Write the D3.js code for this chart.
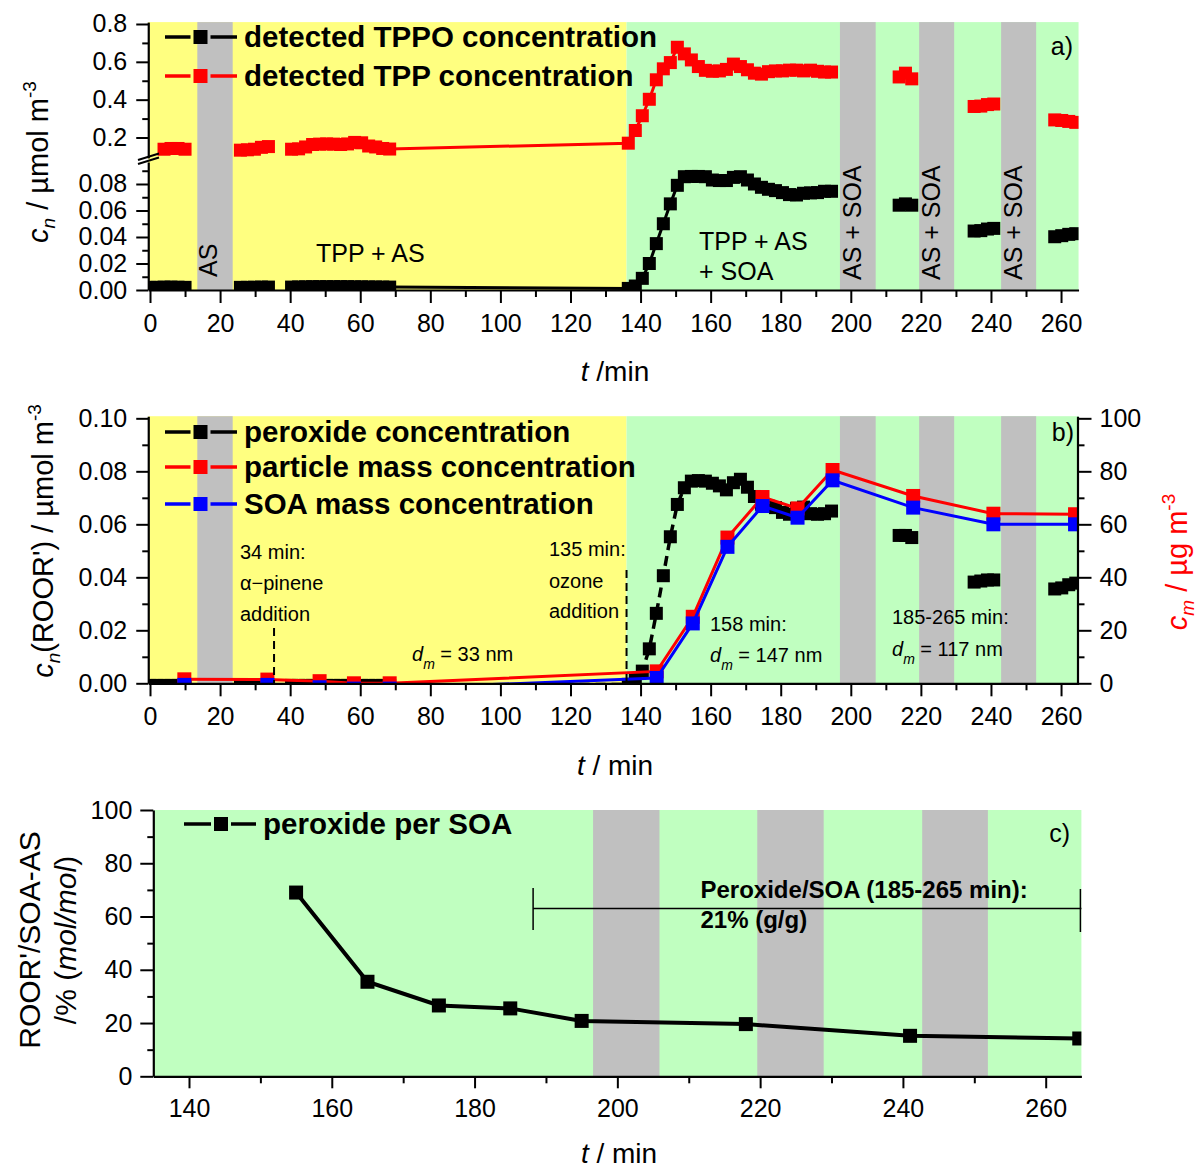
<!DOCTYPE html>
<html><head><meta charset="utf-8">
<script src="https://d3js.org/d3.v7.min.js"></script>
<style>
html,body{margin:0;padding:0;background:#fff;}
svg{display:block;font-family:"Liberation Sans",Arial,Helvetica,sans-serif;}
</style></head><body>
<svg id="chart" width="1200" height="1171"></svg>
<script>
// ================= DATA =================
// measurement segments (time, min) shared by panels a and b
const segTimes = [
  [0, 2, 4, 6, 8, 10],
  [25.8, 27.8, 29.8, 31.8, 33.8],
  [40.4, 42.4, 44.4, 46.4, 48.4, 50.4, 52.4, 54.4, 56.4, 58.4, 60.4, 62.4, 64.4, 66.4, 68.4,
   136.5, 138.5, 140.5, 142.5, 144.5, 146.5, 148.5, 150.5, 152.5, 154.5, 156.5, 158.5, 160.5, 162.5, 164.5,
   166.5, 168.5, 170.5, 172.5, 174.5, 176.5, 178.5, 180.5, 182.5, 184.5, 186.5, 188.5, 190.5, 192.5, 194.5],
  [213.8, 215.6, 217.4],
  [235.2, 237.1, 239.0, 240.8],
  [258.2, 260.2, 262.2, 264.2]
];
// panel a: detected TPPO (µmol m-3)
const tppoSegs = [
  [0.002, 0.002, 0.0022, 0.0022, 0.0021, 0.002],
  [0.002, 0.002, 0.0021, 0.0022, 0.0022],
  [0.0022, 0.0023, 0.0024, 0.0025, 0.0025, 0.0025, 0.0025, 0.0025, 0.0025, 0.0024, 0.0024, 0.0023, 0.0023, 0.0022, 0.0022,
   0.0012, 0.003, 0.0088, 0.020, 0.035, 0.050, 0.065, 0.079, 0.0855, 0.0857, 0.0857, 0.0855, 0.083, 0.0826, 0.0826,
   0.085, 0.0855, 0.083, 0.080, 0.0775, 0.076, 0.075, 0.0735, 0.072, 0.0717, 0.073, 0.0733, 0.0735, 0.0745, 0.0745],
  [0.064, 0.065, 0.064],
  [0.0445, 0.0448, 0.046, 0.0465],
  [0.0402, 0.041, 0.042, 0.0425]
];
// panel a: detected TPP (µmol m-3)
const tppSegs = [
  [null, null, 0.138, 0.142, 0.142, 0.138],
  [0.133, 0.135, 0.138, 0.148, 0.152],
  [0.138, 0.140, 0.150, 0.163, 0.165, 0.166, 0.165, 0.163, 0.166, 0.174, 0.172, 0.155, 0.150, 0.142, 0.139,
   0.170, 0.237, 0.315, 0.402, 0.505, 0.563, 0.596, 0.677, 0.642, 0.610, 0.575, 0.555, 0.550, 0.552, 0.560,
   0.588, 0.575, 0.558, 0.540, 0.535, 0.548, 0.552, 0.552, 0.556, 0.556, 0.552, 0.556, 0.550, 0.546, 0.546],
  [0.52, 0.54, 0.51],
  [0.364, 0.366, 0.374, 0.377],
  [0.293, 0.290, 0.285, 0.280]
];
// panel b: peroxide concentration (µmol m-3)
const peroxSegs = [
  [-0.0008, -0.0008, -0.0008, -0.0008, -0.0008, -0.0008],
  [-0.0008, -0.0008, -0.0008, -0.0008, -0.0008],
  [-0.0008, -0.0008, -0.0008, -0.0008, -0.0008, -0.0008, -0.0008, -0.0008, -0.0008, -0.0008, -0.0008, -0.0008, -0.0008, -0.0008, -0.0008,
   -0.0004, 0.0015, 0.0046, 0.013, 0.0264, 0.0406, 0.0553, 0.0675, 0.0738, 0.0763, 0.0765, 0.0763, 0.0755, 0.0745, 0.073,
   0.0757, 0.077, 0.074, 0.0705, 0.0676, 0.0668, 0.0663, 0.0645, 0.0638, 0.066, 0.0665, 0.064, 0.0638, 0.064, 0.065],
  [0.0558, 0.0558, 0.055],
  [0.0382, 0.0386, 0.039, 0.039],
  [0.0356, 0.036, 0.0372, 0.0378]
];
// panel b: mass concentrations (µg m-3)
const tMass = [9.8, 33.5, 48.4, 58.2, 68.4, 144.6, 154.9, 164.8, 174.8, 184.8, 194.8, 217.8, 240.7, 264.0];
const particleMass = [1.5, 1.4, 0.8, 0.0, 0.0, 4.5, 25.1, 55.0, 70.3, 66.0, 80.5, 70.7, 64.0, 63.8];
const soaMass = [-0.6, -0.6, -1.5, -2.0, -2.0, 2.0, 22.6, 51.5, 66.9, 62.5, 76.6, 66.3, 60.0, 60.0];
// panel c: peroxide per SOA (%)
const tRatio = [155, 165, 175, 185, 195, 218, 241, 264.7];
const ratioPct = [69.0, 35.5, 26.6, 25.5, 20.8, 19.6, 15.2, 14.2];

// background phases (min)
const yellowSpan = [-0.5, 136];
const greenSpan = [136, 265];
const greySpansAB = [[13.5, 23.6], [196.9, 207.1], [219.5, 229.5], [242.9, 252.9]];
const greySpansC = [[196.6, 205.9], [219.6, 228.9], [242.7, 251.9]];

// ticks
const xTicksAB = [0, 20, 40, 60, 80, 100, 120, 140, 160, 180, 200, 220, 240, 260];
const xMinorAB = [10, 30, 50, 70, 90, 110, 130, 150, 170, 190, 210, 230, 250];
const yTopTicks = [0.2, 0.4, 0.6, 0.8];
const yTopMinor = [0.3, 0.5, 0.7];
const yBotTicks = [0, 0.02, 0.04, 0.06, 0.08];
const yBotMinor = [0.01, 0.03, 0.05, 0.07, 0.09];
const yBTicks = [0, 0.02, 0.04, 0.06, 0.08, 0.10];
const yBMinor = [0.01, 0.03, 0.05, 0.07, 0.09];
const yRTicks = [0, 20, 40, 60, 80, 100];
const yRMinor = [10, 30, 50, 70, 90];
const xCTicks = [140, 160, 180, 200, 220, 240, 260];
const xCMinor = [150, 170, 190, 210, 230, 250];
const yCTicks = [0, 20, 40, 60, 80, 100];
const yCMinor = [10, 30, 50, 70, 90];

// ================= DRAWING =================
const FONT = '"Liberation Sans", Arial, Helvetica, sans-serif';
const YEL = '#FFFF80', GRN = '#C0FFC0', GRY = '#C0C0C0';
const TICK_FS = 25;
const svg = d3.select('#chart');

const xAB = d3.scaleLinear().domain([-0.5, 265]).range([148.25, 1078.56]);
const yATop = d3.scaleLinear().domain([0.092, 0.81]).range([157.93, 22.1]);
const yABot = d3.scaleLinear().domain([0, 0.0966]).range([290, 162]);
const yB = d3.scaleLinear().domain([0, 0.1008]).range([683.3, 416.2]);
const yBR = d3.scaleLinear().domain([0, 100.8]).range([683.3, 416.2]);
const xC = d3.scaleLinear().domain([135, 265]).range([153.3, 1081.4]);
const yC = d3.scaleLinear().domain([0, 100]).range([1076.3, 810]);

const defs = svg.append('defs');
function clip(id, x0, y0, x1, y1) {
  defs.append('clipPath').attr('id', id).append('rect')
    .attr('x', x0).attr('y', y0).attr('width', x1 - x0).attr('height', y1 - y0);
  return 'url(#' + id + ')';
}
const clipA = clip('ca', 148.25, 22.1, 1078.56, 290);
const clipB = clip('cb', 148.25, 416.2, 1078.56, 683.3);
const clipC = clip('cc', 153.3, 810, 1081.4, 1076.3);

function bands(g, x, spans, color, y0, y1) {
  g.selectAll(null).data(spans).enter().append('rect')
    .attr('x', d => x(d[0])).attr('width', d => x(d[1]) - x(d[0]))
    .attr('y', y0).attr('height', y1 - y0).attr('fill', color);
}
function series(g, x, y, times, vals, color, size, lw, dash, clipUrl) {
  const gg = g.append('g').attr('clip-path', clipUrl);
  const line = d3.line().defined(d => d[1] != null).x(d => x(d[0])).y(d => y(d[1]));
  const pts = [];
  times.forEach((ts, i) => {
    const seg = ts.map((t, j) => [t, vals[i][j]]);
    gg.append('path').datum(seg).attr('d', line).attr('fill', 'none')
      .attr('stroke', color).attr('stroke-width', lw).attr('stroke-dasharray', dash || null);
    seg.forEach(p => { if (p[1] != null) pts.push(p); });
  });
  gg.selectAll(null).data(pts).enter().append('rect')
    .attr('x', d => x(d[0]) - size / 2).attr('y', d => y(d[1]) - size / 2)
    .attr('width', size).attr('height', size).attr('fill', color);
}
function styleAxis(sel, fs) {
  sel.attr('font-family', FONT).attr('font-size', fs);
  sel.select('.domain').attr('stroke', '#000').attr('stroke-width', 2.2);
  sel.selectAll('.tick line').attr('stroke', '#000').attr('stroke-width', 2);
  sel.selectAll('.tick text').attr('fill', '#000');
}
function minor(g, axis) {
  const a = g.append('g').call(axis);
  a.select('.domain').remove();
  a.selectAll('.tick line').attr('stroke', '#000').attr('stroke-width', 2);
  return a;
}
function legendRow(g, x0, x1, xm, y, color, label) {
  g.append('line').attr('x1', x0).attr('x2', xm - 10).attr('y1', y).attr('y2', y)
    .attr('stroke', color).attr('stroke-width', 3.5);
  g.append('line').attr('x1', xm + 10).attr('x2', x1).attr('y1', y).attr('y2', y)
    .attr('stroke', color).attr('stroke-width', 3.5);
  g.append('rect').attr('x', xm - 7).attr('y', y - 7).attr('width', 14).attr('height', 14).attr('fill', color);
  g.append('text').attr('x', x1 + 7).attr('y', y + 10).attr('font-size', 29.5)
    .attr('font-weight', 'bold').attr('fill', '#000').text(label);
}
function vtext(g, x, y, txt, fs, anchor) {
  return g.append('text').attr('transform', `translate(${x},${y}) rotate(-90)`)
    .attr('text-anchor', anchor || 'start').attr('font-size', fs).attr('fill', '#000').text(txt);
}
function dm(g, x, y, rest) {
  const t = g.append('text').attr('x', x).attr('y', y).attr('font-size', 20).attr('fill', '#000');
  t.append('tspan').attr('font-style', 'italic').text('d');
  t.append('tspan').attr('font-style', 'italic').attr('font-size', 14).attr('dy', 8).text('m');
  t.append('tspan').attr('dy', -8).text(rest);
}
function xTitle(g, cx, y, rest) {
  const t = g.append('text').attr('x', cx).attr('y', y).attr('text-anchor', 'middle')
    .attr('font-size', 28).attr('fill', '#000');
  t.append('tspan').attr('font-style', 'italic').text('t');
  t.append('tspan').text(rest);
}

// ---------- Panel a ----------
const gA = svg.append('g');
bands(gA, xAB, [yellowSpan], YEL, 22.1, 290);
bands(gA, xAB, [greenSpan], GRN, 22.1, 290);
bands(gA, xAB, greySpansAB, GRY, 22.1, 290);
series(gA, xAB, yABot, segTimes, tppoSegs, '#000', 13, 3, null, clipA);
series(gA, xAB, yATop, segTimes, tppSegs, '#FF0000', 13, 3, null, clipA);

gA.append('text').attr('x', 316).attr('y', 262).attr('font-size', 25).text('TPP + AS');
gA.append('text').attr('x', 699).attr('y', 250).attr('font-size', 25).text('TPP + AS');
gA.append('text').attr('x', 699).attr('y', 280).attr('font-size', 25).text('+ SOA');
vtext(gA, xAB(greySpansAB[0][0]) + 20, 277, 'AS', 25);
greySpansAB.slice(1).forEach(s => vtext(gA, xAB(s[0]) + 21, 280, 'AS + SOA', 25));
gA.append('text').attr('x', 1073).attr('y', 55).attr('text-anchor', 'end').attr('font-size', 25).text('a)');
legendRow(gA, 165, 237, 200.5, 37, '#000', 'detected TPPO concentration');
legendRow(gA, 165, 237, 200.5, 76, '#FF0000', 'detected TPP concentration');

// axes a
const axAx = gA.append('g').attr('transform', 'translate(0,290)')
  .call(d3.axisBottom(xAB).tickValues(xTicksAB).tickSize(13).tickSizeOuter(0).tickPadding(11).tickFormat(d3.format('d')));
styleAxis(axAx, TICK_FS);
minor(gA.append('g').attr('transform', 'translate(0,290)'), d3.axisBottom(xAB).tickValues(xMinorAB).tickSize(7).tickFormat(''));
const axATop = gA.append('g').attr('transform', 'translate(148.25,0)')
  .call(d3.axisLeft(yATop).tickValues(yTopTicks).tickSize(12).tickSizeOuter(0).tickPadding(9).tickFormat(d3.format('.1f')));
styleAxis(axATop, TICK_FS);
minor(gA.append('g').attr('transform', 'translate(148.25,0)'), d3.axisLeft(yATop).tickValues(yTopMinor).tickSize(6).tickFormat(''));
const axABot = gA.append('g').attr('transform', 'translate(148.25,0)')
  .call(d3.axisLeft(yABot).tickValues(yBotTicks).tickSize(12).tickSizeOuter(0).tickPadding(9).tickFormat(d3.format('.2f')));
styleAxis(axABot, TICK_FS);
minor(gA.append('g').attr('transform', 'translate(148.25,0)'), d3.axisLeft(yABot).tickValues(yBotMinor).tickSize(6).tickFormat(''));
// axis break marks
gA.append('line').attr('x1', 138).attr('y1', 164).attr('x2', 159).attr('y2', 157.5).attr('stroke', '#000').attr('stroke-width', 2);
gA.append('line').attr('x1', 138).attr('y1', 160).attr('x2', 159).attr('y2', 153.5).attr('stroke', '#000').attr('stroke-width', 2);

// y title a
(function () {
  const t = gA.append('text').attr('transform', 'translate(48,162) rotate(-90)')
    .attr('text-anchor', 'middle').attr('font-size', 29).attr('fill', '#000');
  t.append('tspan').attr('font-style', 'italic').text('c');
  t.append('tspan').attr('font-style', 'italic').attr('font-size', 19).attr('dy', 7).text('n');
  t.append('tspan').attr('dy', -7).text(' / µmol m');
  t.append('tspan').attr('font-size', 19).attr('dy', -12).text('-3');
})();
xTitle(gA, 615, 381, ' /min');

// ---------- Panel b ----------
const gB = svg.append('g');
bands(gB, xAB, [yellowSpan], YEL, 416.2, 683.3);
bands(gB, xAB, [greenSpan], GRN, 416.2, 683.3);
bands(gB, xAB, greySpansAB, GRY, 416.2, 683.3);
series(gB, xAB, yB, segTimes, peroxSegs, '#000', 13, 3.5, '10,6', clipB);
series(gB, xAB, yBR, [tMass], [particleMass], '#FF0000', 14, 3, null, clipB);
series(gB, xAB, yBR, [tMass], [soaMass], '#0000FF', 14, 3, null, clipB);
// event markers
gB.append('line').attr('x1', xAB(35.4)).attr('x2', xAB(35.4)).attr('y1', 628).attr('y2', 683)
  .attr('stroke', '#000').attr('stroke-width', 2).attr('stroke-dasharray', '8,5');
gB.append('line').attr('x1', xAB(136)).attr('x2', xAB(136)).attr('y1', 570).attr('y2', 683)
  .attr('stroke', '#000').attr('stroke-width', 2).attr('stroke-dasharray', '8,5');
[['34 min:', 559], ['α−pinene', 590], ['addition', 621]].forEach(d =>
  gB.append('text').attr('x', 240).attr('y', d[1]).attr('font-size', 20).text(d[0]));
[['135 min:', 556], ['ozone', 588], ['addition', 618]].forEach(d =>
  gB.append('text').attr('x', 549).attr('y', d[1]).attr('font-size', 20).text(d[0]));
dm(gB, 412, 661, ' = 33 nm');
gB.append('text').attr('x', 710).attr('y', 631).attr('font-size', 20).text('158 min:');
dm(gB, 710, 662, ' = 147 nm');
gB.append('text').attr('x', 892).attr('y', 624).attr('font-size', 20).text('185-265 min:');
dm(gB, 892, 656, ' = 117 nm');
gB.append('text').attr('x', 1074).attr('y', 441).attr('text-anchor', 'end').attr('font-size', 25).text('b)');
legendRow(gB, 165, 237, 200.5, 432, '#000', 'peroxide concentration');
legendRow(gB, 165, 237, 200.5, 467, '#FF0000', 'particle mass concentration');
legendRow(gB, 165, 237, 200.5, 504, '#0000FF', 'SOA mass concentration');

const bxAx = gB.append('g').attr('transform', 'translate(0,683.3)')
  .call(d3.axisBottom(xAB).tickValues(xTicksAB).tickSize(13).tickSizeOuter(0).tickPadding(11).tickFormat(d3.format('d')));
styleAxis(bxAx, TICK_FS);
minor(gB.append('g').attr('transform', 'translate(0,683.3)'), d3.axisBottom(xAB).tickValues(xMinorAB).tickSize(7).tickFormat(''));
const byAx = gB.append('g').attr('transform', 'translate(148.25,0)')
  .call(d3.axisLeft(yB).tickValues(yBTicks).tickSize(12).tickSizeOuter(0).tickPadding(9).tickFormat(d3.format('.2f')));
styleAxis(byAx, TICK_FS);
minor(gB.append('g').attr('transform', 'translate(148.25,0)'), d3.axisLeft(yB).tickValues(yBMinor).tickSize(6).tickFormat(''));
const byR = gB.append('g').attr('transform', 'translate(1077.5,0)')
  .call(d3.axisRight(yBR).tickValues(yRTicks).tickSize(14).tickSizeOuter(0).tickPadding(8).tickFormat(d3.format('d')));
styleAxis(byR, TICK_FS);
minor(gB.append('g').attr('transform', 'translate(1077.5,0)'), d3.axisRight(yBR).tickValues(yRMinor).tickSize(7).tickFormat(''));

(function () {
  const t = gB.append('text').attr('transform', 'translate(53,541) rotate(-90)')
    .attr('text-anchor', 'middle').attr('font-size', 29).attr('fill', '#000');
  t.append('tspan').attr('font-style', 'italic').text('c');
  t.append('tspan').attr('font-style', 'italic').attr('font-size', 19).attr('dy', 7).text('n');
  t.append('tspan').attr('dy', -7).text("(ROOR') / µmol m");
  t.append('tspan').attr('font-size', 19).attr('dy', -12).text('-3');
})();
(function () {
  const t = gB.append('text').attr('transform', 'translate(1187,562) rotate(-90)')
    .attr('text-anchor', 'middle').attr('font-size', 29).attr('fill', '#FF0000');
  t.append('tspan').attr('font-style', 'italic').text('c');
  t.append('tspan').attr('font-style', 'italic').attr('font-size', 19).attr('dy', 7).text('m');
  t.append('tspan').attr('dy', -7).text(' / µg m');
  t.append('tspan').attr('font-size', 19).attr('dy', -12).text('-3');
})();
xTitle(gB, 615, 775, ' / min');

// ---------- Panel c ----------
const gC = svg.append('g');
bands(gC, xC, [[135, 265]], GRN, 810, 1076.3);
bands(gC, xC, greySpansC, GRY, 810, 1076.3);
series(gC, xC, yC, [tRatio], [ratioPct], '#000', 14, 4, null, clipC);
// annotation bracket
const yAnn = yC(63);
gC.append('line').attr('x1', xC(188.2)).attr('x2', xC(265)).attr('y1', yAnn).attr('y2', yAnn).attr('stroke', '#000').attr('stroke-width', 1.5);
gC.append('line').attr('x1', xC(188.2)).attr('x2', xC(188.2)).attr('y1', 888).attr('y2', 930).attr('stroke', '#000').attr('stroke-width', 1.5);
gC.append('line').attr('x1', xC(265) - 1).attr('x2', xC(265) - 1).attr('y1', 889).attr('y2', 932).attr('stroke', '#000').attr('stroke-width', 1.5);
gC.append('text').attr('x', 700.5).attr('y', 898).attr('font-size', 24).attr('font-weight', 'bold').text('Peroxide/SOA (185-265 min):');
gC.append('text').attr('x', 700.5).attr('y', 928).attr('font-size', 24).attr('font-weight', 'bold').text('21% (g/g)');
gC.append('text').attr('x', 1070).attr('y', 842).attr('text-anchor', 'end').attr('font-size', 25).text('c)');
legendRow(gC, 184, 256, 221, 824, '#000', 'peroxide per SOA');

const cxAx = gC.append('g').attr('transform', 'translate(0,1076.3)')
  .call(d3.axisBottom(xC).tickValues(xCTicks).tickSize(12).tickSizeOuter(0).tickPadding(11).tickFormat(d3.format('d')));
styleAxis(cxAx, TICK_FS);
minor(gC.append('g').attr('transform', 'translate(0,1076.3)'), d3.axisBottom(xC).tickValues(xCMinor).tickSize(7).tickFormat(''));
const cyAx = gC.append('g').attr('transform', 'translate(153.3,0)')
  .call(d3.axisLeft(yC).tickValues(yCTicks).tickSize(13).tickSizeOuter(0).tickPadding(8).tickFormat(d3.format('d')));
styleAxis(cyAx, TICK_FS);
minor(gC.append('g').attr('transform', 'translate(153.3,0)'), d3.axisLeft(yC).tickValues(yCMinor).tickSize(6).tickFormat(''));

vtext(gC, 40, 940, "ROOR'/SOA-AS", 30, 'middle');
(function () {
  const t = gC.append('text').attr('transform', 'translate(76,940) rotate(-90)')
    .attr('text-anchor', 'middle').attr('font-size', 30).attr('fill', '#000');
  t.append('tspan').text('/% (');
  t.append('tspan').attr('font-style', 'italic').text('mol/mol');
  t.append('tspan').text(')');
})();
xTitle(gC, 619, 1163, ' / min');
</script>
</body></html>
